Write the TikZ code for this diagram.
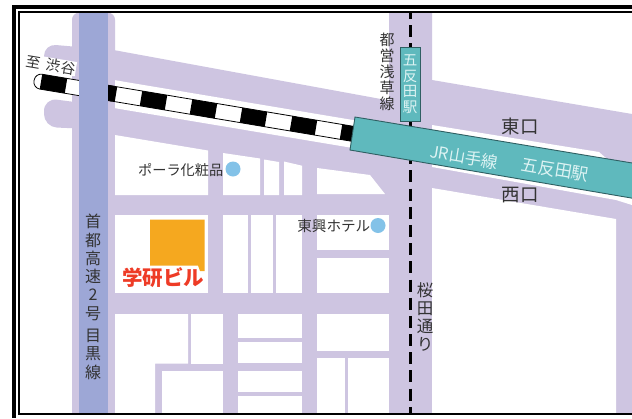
\documentclass[tikz,border=0pt]{standalone}
\usepackage{fontspec}
\newfontfamily\cjk{Noto Sans CJK JP}
\definecolor{roadc}{HTML}{CEC5E1}
\definecolor{highc}{HTML}{9DA7D6}
\definecolor{tealc}{HTML}{5FB9BD}
\definecolor{tealk}{HTML}{2F5F62}
\definecolor{orangec}{HTML}{F5A81F}
\definecolor{redc}{HTML}{EE3B26}
\definecolor{dotc}{HTML}{83C2E8}
\definecolor{inkc}{HTML}{333333}
\definecolor{paleT}{HTML}{DDF3F3}
\tikzset{
  road/.style={fill=roadc,draw=none},
  blockw/.style={fill=white,draw=none},
  lbl/.style={inner sep=0pt,text=inkc,align=center},
  dot/.style={circle,fill=dotc,draw=none,minimum size=15pt,inner sep=0pt},
}
\newcommand{\fs}[2]{\cjk\fontsize{#1}{#2}\selectfont}
\begin{document}
\begin{tikzpicture}[x=1pt,y=-1pt]
\useasboundingbox (0,0) rectangle (632,418);
\fill[white] (0,0) rectangle (632,418);
\begin{scope}
\clip (20,12.7) rectangle (632,413);
% roads
\fill[road] (108,49) -- (389,100.5) -- (389,13) -- (432,13) -- (432,80) -- (632,114) -- (632,414) -- (108,414) -- cycle;
\fill[road,rounded corners=7pt] (72,12.7) -- (115,12.7) -- (115,440) -- (72,440) -- cycle;
\fill[road,rounded corners=12pt] (44,44) -- (90,48) -- (90,76) -- (44,72) -- cycle;
\fill[road,rounded corners=13pt] (44,98) -- (90,104) -- (90,129) -- (44,127) -- cycle;
% white strips along the railway
\fill[white] (115,80.2) -- (360,121.2) -- (360,149.2) -- (115,108.2) -- cycle;
\fill[white] (432,125) -- (599,152) -- (607,159) -- (632,170) -- (632,205) -- (616,200) -- (432,167) -- cycle;
% blocks
\fill[blockw] (115,135) -- (208,150.5) -- (208,195) -- (115,195) -- cycle;
\fill[blockw] (223,153) -- (260,158.5) -- (260,195) -- (223,195) -- cycle;
\fill[blockw] (264,159.5) -- (279,162) -- (279,195) -- (264,195) -- cycle;
\fill[blockw] (284,161.5) -- (302,165.7) -- (302,195) -- (284,195) -- cycle;
\fill[blockw] (317,168) -- (370,175) -- (385,194) -- (317,194) -- cycle;
\fill[blockw] (115,214.5) rectangle (208,293);
\fill[blockw] (223,214.5) rectangle (248,293);
\fill[blockw] (251,214.5) rectangle (273,293);
\fill[blockw] (276,214.5) rectangle (302,293);
\fill[blockw] (317,214.5) rectangle (388.5,250);
\fill[blockw] (317,258) rectangle (388.5,293);
\fill[blockw] (115,314) -- (188,314) -- (188,363.5) -- (155,363.5) -- (155,414) -- (115,414) -- cycle;
\fill[blockw] (191,314) rectangle (223,363.5);
\fill[blockw] (162,371) rectangle (223,414);
\fill[blockw] (238,314) rectangle (302,338);
\fill[blockw] (238,342) rectangle (302,363);
\fill[blockw] (238,371) rectangle (302,392);
\fill[blockw] (238,395.5) rectangle (302,414);
\fill[blockw] (317,314) rectangle (388.5,351);
\fill[blockw] (317,358) rectangle (345,414);
\fill[blockw] (348,358) rectangle (388.5,414);
\fill[blockw] (432,188) -- (616,219) -- (616,414) -- (432,414) -- cycle;
% railway
\begin{scope}[shift={(40,81.5)},rotate=-9.5]
\draw[black,line width=.8pt,fill=white,rounded corners=7pt] (75,-7.5) -- (-6,-7.5) -- (-6,7.5) -- (75,7.5);
\draw[black,line width=.8pt,fill=white] (70,-7.5) rectangle (320,7.5);
\foreach \s in {1,51.7,102.4,153.1,203.8,254.5,305.2}
  \fill[black] (\s,-7.5) rectangle ++(25.35,15);
\end{scope}
% highway
\fill[highc] (79,5) rectangle (108,414);
% Sakurada subway line
\draw[black,line width=3pt,dash pattern=on 12pt off 6.18pt,dash phase=6.18pt] (410,13) -- (410,414);
% station box and JR band
\node[fill=tealc,draw=tealk,line width=.9pt,minimum width=20pt,minimum height=73.5pt,inner sep=0pt,anchor=north,text=paleT,align=center,font=\fs{14.5}{15.8}] (stn) at (410,47) {五\\反\\田\\駅};
\draw[fill=tealc,draw=tealk,line width=.9pt] (355,117) -- (640,164.3) -- (640,199.5) -- (350,150) -- cycle;
\end{scope}
% frame
\fill[black] (11.7,5) rectangle (16,418);
\fill[black] (11.7,5) rectangle (632,9);
\fill[black] (17.7,10.8) rectangle (20,415.3);
\fill[black] (17.7,10.8) rectangle (632,12.7);
\fill[black] (17.7,413) rectangle (632,415.3);
% site
\fill[orangec] (150,219.5) -- (204.5,219.5) -- (204.5,271) -- (200,271) -- (198,265.5) -- (150,265.5) -- cycle;
\node[inner sep=0pt,text=redc,font=\fs{20.5}{22}\bfseries] (gk) at (163,278) {学研ビル};
% labels
\node[lbl,fill=white,inner sep=.5pt,rotate=-9.5,font=\fs{14.5}{16}] (shibuya) at (51,65) {至\hspace{6pt}渋谷};
\node[lbl,font=\fs{14.2}{15},anchor=east] (pola) at (223.5,170) {ポーラ化粧品};
\node[dot] (poladot) at (233,169) {};
\node[lbl,font=\fs{14.6}{15},anchor=east] (toko) at (370.5,226) {東興ホテル};
\node[dot] (tokodot) at (378,225.5) {};
\node[lbl,font=\fs{18.5}{20}] (east) at (520,126) {東口};
\node[lbl,font=\fs{18.5}{20}] (west) at (520,195) {西口};
\node[inner sep=0pt,text=paleT,rotate=-9.5,font=\fs{16.5}{18}] (jr) at (464,157) {JR山手線};
\node[inner sep=0pt,text=paleT,rotate=-9.5,font=\fs{17}{18}] (gotanda) at (555,170) {五反田駅};
\node[lbl,font=\fs{15}{16}] (asakusa) at (387,72) {都\\営\\浅\\草\\線};
\node[lbl,font=\fs{16}{18.3},anchor=north] (hw) at (93,214) {首\\都\\高\\速\\2\\号\\[4pt]目\\黒\\線};
\node[lbl,font=\fs{16.5}{18.2}] (sakura) at (425,317) {桜\\田\\通\\り};
\end{tikzpicture}
\end{document}
